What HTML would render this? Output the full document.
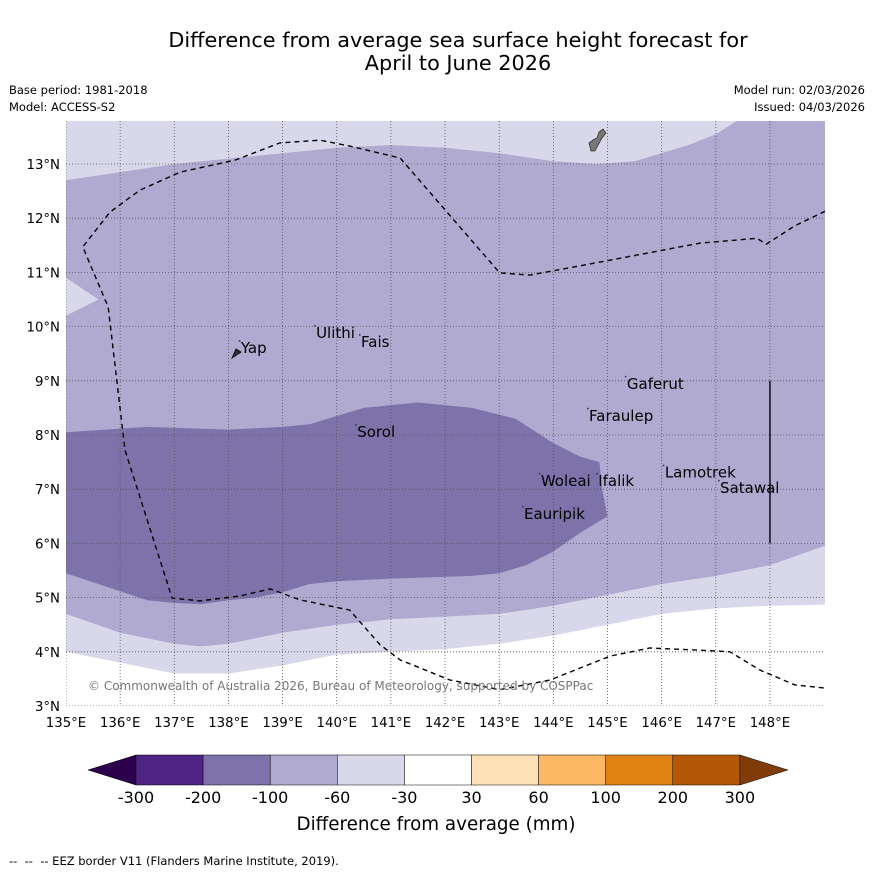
<!DOCTYPE html>
<html><head><meta charset="utf-8"><style>
body{margin:0;background:#fff;}
svg text{font-family:"DejaVu Sans","Liberation Sans",sans-serif;}
</style></head><body>
<svg id="chart" width="873" height="873" viewBox="0 0 873 873" xmlns="http://www.w3.org/2000/svg">
<text x="458" y="47" font-size="20.8" text-anchor="middle">Difference from average sea surface height forecast for</text>
<text x="458" y="70" font-size="20.8" text-anchor="middle">April to June 2026</text>
<text x="9" y="94" font-size="11.5">Base period: 1981-2018</text>
<text x="9" y="111" font-size="11.5">Model: ACCESS-S2</text>
<text x="865" y="94" font-size="11.5" text-anchor="end">Model run: 02/03/2026</text>
<text x="865" y="111" font-size="11.5" text-anchor="end">Issued: 04/03/2026</text>
<defs><clipPath id="mapclip"><rect x="66" y="121" width="759" height="585"/></clipPath></defs>
<g id="map" clip-path="url(#mapclip)"></g>
<g id="axes"></g>
<g id="cbar"></g>
<text x="436" y="830" font-size="18.3" text-anchor="middle">Difference from average (mm)</text>
<text x="9" y="865" font-size="11.5" xml:space="preserve">--  --  -- EEZ border V11 (Flanders Marine Institute, 2019).</text>
</svg>
<script>
const lonTicks=[135,136,137,138,139,140,141,142,143,144,145,146,147,148];
const latTicks=[3,4,5,6,7,8,9,10,11,12,13];
const topLightBoundary=[[135,12.7],[136,12.85],[137,13.0],[138,13.1],[139,13.2],[140,13.3],[141,13.35],[142,13.3],[143,13.2],[144,13.05],[144.8,13.0],[145.5,13.05],[146.5,13.35],[147,13.55],[147.4,13.8]];
const leftLightWedge=[[135,10.9],[135.6,10.5],[135,10.2]];
const darkRegion=[[135,8.05],[136.5,8.15],[138,8.1],[139,8.15],[139.5,8.2],[140,8.35],[140.5,8.5],[141.5,8.6],[142.5,8.5],[143.3,8.3],[144,7.85],[144.5,7.6],[144.85,7.5],[144.9,7.0],[145,6.5],[144.5,6.2],[144,5.85],[143.5,5.6],[143,5.45],[142.5,5.4],[141,5.35],[140,5.3],[139.5,5.25],[139,5.1],[138.5,5.0],[138,4.95],[137.5,4.88],[137,4.9],[136.5,4.95],[135,5.45]];
const mediumBottom=[[135,4.7],[136,4.35],[137,4.15],[137.5,4.1],[138,4.15],[139,4.35],[140,4.5],[141,4.6],[142,4.65],[143,4.7],[144,4.85],[145,5.05],[146,5.25],[147,5.4],[148,5.6],[149,5.95]];
const lightBottom=[[135,4.0],[136,3.8],[137,3.6],[138,3.6],[139,3.75],[140,3.95],[141,4.0],[142,4.05],[143,4.15],[144,4.3],[145,4.5],[146,4.7],[147,4.8],[148,4.85],[149,4.87]];
const eezLine=[[149.02,12.13],[148.46,11.86],[147.93,11.52],[147.76,11.63],[146.71,11.54],[144.86,11.19],[143.57,10.95],[143.01,10.99],[141.17,13.11],[140.24,13.33],[139.69,13.44],[138.95,13.39],[138.12,13.07],[137.11,12.85],[136.37,12.52],[135.81,12.11],[135.31,11.47],[135.78,10.36],[136.09,7.72],[136.96,4.99],[137.47,4.94],[138.21,5.03],[138.77,5.16],[139.32,4.96],[140.24,4.77],[140.8,4.13],[141.17,3.85],[142.09,3.48],[143.01,3.30],[143.94,3.48],[145.05,3.92],[145.78,4.07],[146.71,4.03],[147.26,4.0],[147.82,3.66],[148.46,3.39],[149.02,3.33]];
const islandNames=["Ulithi","Fais","Yap","Sorol","Gaferut","Faraulep","Woleai","Ifalik","Lamotrek","Satawal","Eauripik"];
const islandLon=[139.60,140.43,138.21,140.36,145.34,144.64,143.75,144.81,146.04,147.06,143.44];
const islandLat=[9.81,9.64,9.53,7.98,8.87,8.28,7.08,7.08,7.23,6.95,6.47];
const cbarLabels=["-300","-200","-100","-60","-30","30","60","100","200","300"];
const cbarColors=["#4f2484","#7e72aa","#b0a9d0","#d8d8ea","#ffffff","#fee0b6","#fdb863","#e08214","#b35806"];
const NS="http://www.w3.org/2000/svg";
const X0=66,XS=54.15,Y0=706,YS=54.2;
const xs=l=>X0+(l-135)*XS, ys=l=>Y0-(l-3)*YS;
function mk(t,a,p){const e=document.createElementNS(NS,t);for(const k in a)e.setAttribute(k,a[k]);p.appendChild(e);return e;}
const pts=a=>a.map(p=>xs(p[0]).toFixed(1)+","+ys(p[1]).toFixed(1)).join(" ");
const map=document.getElementById('map');
let e;
e=mk('rect',{x:60,y:115,width:780,height:600,fill:'#b0a9d0'},map);

e=mk('polygon',{points:pts([[134,14.5],[134,topLightBoundary[0][1]],...topLightBoundary,[150,14.5]]),fill:'#d8d8ea'},map);

e=mk('polygon',{points:pts(leftLightWedge),fill:'#d8d8ea'},map);

e=mk('polygon',{points:pts([[134,mediumBottom[0][1]],...mediumBottom,[150,5.95],[150,2],[134,2]]),fill:'#d8d8ea'},map);

e=mk('polygon',{points:pts([[134,lightBottom[0][1]],...lightBottom,[150,4.87],[150,2],[134,2]]),fill:'#ffffff'},map);

e=mk('polygon',{points:pts([[134,8.05],...darkRegion,[134,5.45]]),fill:'#7e72aa'},map);

lonTicks.forEach(l=>{e=mk('line',{x1:xs(l),x2:xs(l),y1:121,y2:706,stroke:'#555','stroke-width':0.8,'stroke-dasharray':'1,2'},map);
});
latTicks.forEach(l=>{e=mk('line',{x1:66,x2:825,y1:ys(l),y2:ys(l),stroke:'#555','stroke-width':0.8,'stroke-dasharray':'1,2'},map);
});
e=mk('polyline',{points:pts(eezLine),fill:'none',stroke:'#000','stroke-width':1.4,'stroke-dasharray':'5,4'},map);

e=mk('line',{x1:xs(148),x2:xs(148),y1:ys(6),y2:ys(9),stroke:'#000','stroke-width':1.4},map);

e=mk('path',{d:'M591,151 L589,143 L593,140 L597,138 L599,132 L603,129 L606,133 L602,138 L598,145 L595,151 Z',fill:'#777',stroke:'#333','stroke-width':0.8},map);

e=mk('path',{d:'M232,358 L236,349 L241,352 Z',fill:'#333',stroke:'#000','stroke-width':0.8},map);

islandNames.forEach((n,i)=>{
 const x=xs(islandLon[i]),y=ys(islandLat[i]);
 e=mk('rect',{x:x-1,y:y-12,width:1.5,height:1.5,fill:'#333'},map);
 
 e=mk('text',{x:x+1,y:y+1,'font-size':15},map);e.textContent=n;
 
});
e=mk('text',{x:88,y:690,'font-size':12,fill:'#777'},map);e.textContent='© Commonwealth of Australia 2026, Bureau of Meteorology, supported by COSPPac';

const ax=document.getElementById('axes');
lonTicks.forEach(l=>{e=mk('text',{x:xs(l),y:727,'font-size':13.3,'text-anchor':'middle'},ax);e.textContent=l+'°E';
});
latTicks.forEach(l=>{e=mk('text',{x:60,y:ys(l)+5,'font-size':13.3,'text-anchor':'end'},ax);e.textContent=l+'°N';
});
const cb=document.getElementById('cbar');
const cx0=136,cw=67.1,cy=755,ch=30;
e=mk('polygon',{points:`88,${cy+ch/2} ${cx0},${cy} ${cx0},${cy+ch}`,fill:'#2d004b',stroke:'#000','stroke-width':0.5},cb);

cbarColors.forEach((c,i)=>{e=mk('rect',{x:cx0+i*cw,y:cy,width:cw,height:ch,fill:c,stroke:'#000','stroke-width':0.5},cb);
});
const cx1=cx0+cbarColors.length*cw;
e=mk('polygon',{points:`${cx1},${cy} ${cx1+48},${cy+ch/2} ${cx1},${cy+ch}`,fill:'#7f3b08',stroke:'#000','stroke-width':0.5},cb);

cbarLabels.forEach((t,i)=>{e=mk('text',{x:cx0+i*cw,y:803,'font-size':16,'text-anchor':'middle'},cb);e.textContent=t;
});
</script>
</body></html>
